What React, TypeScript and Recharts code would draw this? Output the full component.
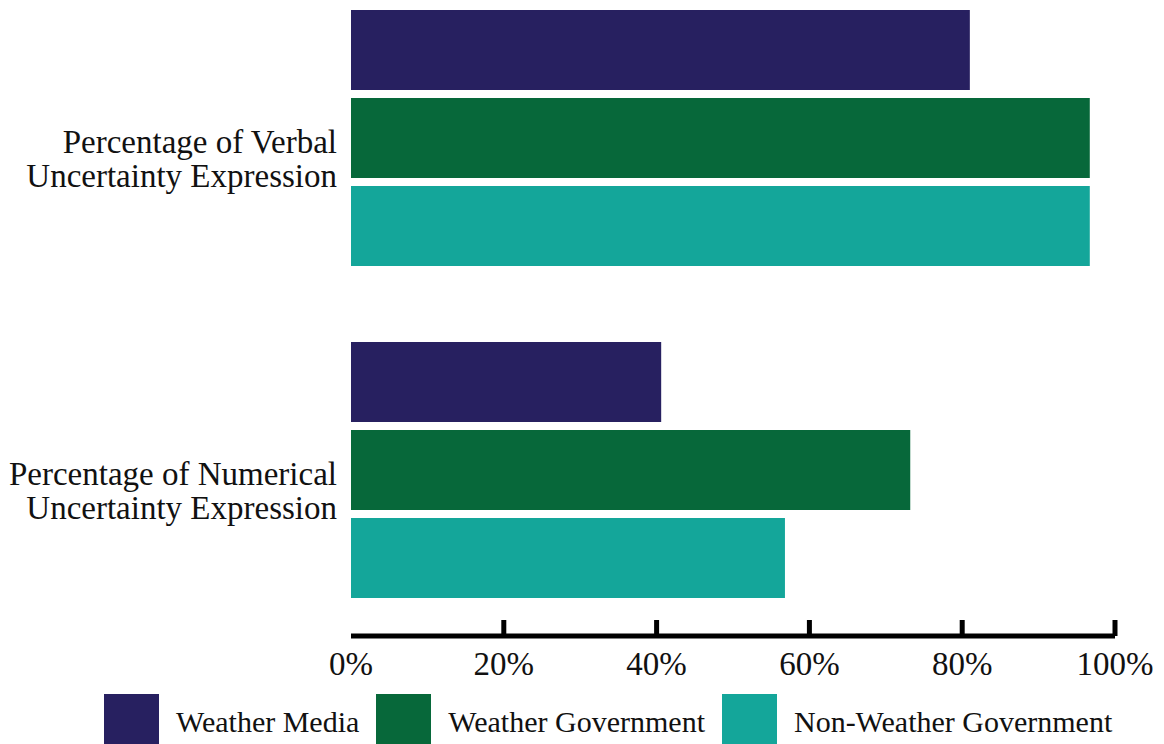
import React from 'react';
import { BarChart, Bar, XAxis, YAxis, Legend } from 'recharts';

// Category labels, split into the two lines they are drawn on
const categoryLines: string[][] = [
  ['Percentage of Verbal', 'Uncertainty Expression'],
  ['Percentage of Numerical', 'Uncertainty Expression'],
];
const categories = categoryLines.map((lines) => lines.join(' '));

// Share of statements (%) per source type
const weatherMedia = [81.0, 40.6];
const weatherGovernment = [96.7, 73.2];
const nonWeatherGovernment = [96.7, 56.8];

const xTicks = [0, 20, 40, 60, 80, 100];

const seriesKeys = ['weatherMedia', 'weatherGovernment', 'nonWeatherGovernment'];
const seriesNames = ['Weather Media', 'Weather Government', 'Non-Weather Government'];
const seriesColors = ['#272060', '#07683a', '#14a69a'];

const data = categories.map((category, i) => ({
  category,
  weatherMedia: weatherMedia[i],
  weatherGovernment: weatherGovernment[i],
  nonWeatherGovernment: nonWeatherGovernment[i],
}));

const FONT = '"Liberation Serif", "Times New Roman", serif';
const INK = '#111';

const CategoryTick = (props: any) => {
  const { x, y, payload } = props;
  const idx = categories.indexOf(payload.value);
  const lines = idx >= 0 ? categoryLines[idx] : [String(payload.value)];
  return (
    <text x={x} y={y} textAnchor="end" fontFamily={FONT} fontSize={33} fill={INK}>
      {lines.map((line, i) => (
        <tspan key={i} x={x} y={y + 15 + i * 34}>
          {line}
        </tspan>
      ))}
    </text>
  );
};

const PercentTick = (props: any) => {
  const { x, y, payload } = props;
  return (
    <g>
      {payload.value !== 0 && (
        <line x1={x} x2={x} y1={y - 16} y2={y} stroke="#000" strokeWidth={5} />
      )}
      <text x={x} y={y + 39} textAnchor="middle" fontFamily={FONT} fontSize={33} fill={INK}>
        {`${payload.value}%`}
      </text>
    </g>
  );
};

const LegendContent = () => (
  <div style={{ display: 'flex', alignItems: 'flex-start', paddingLeft: 104, height: 50 }}>
    {seriesNames.map((name, i) => (
      <div key={name} style={{ display: 'flex', alignItems: 'flex-start', marginRight: 17 }}>
        <div style={{ width: 55, height: 50, background: seriesColors[i], marginRight: 17 }} />
        <span
          style={{
            fontFamily: FONT,
            fontSize: 30,
            lineHeight: '30px',
            marginTop: 13,
            color: INK,
            whiteSpace: 'nowrap',
          }}
        >
          {name}
        </span>
      </div>
    ))}
  </div>
);

export default function App() {
  return (
    <div style={{ position: 'absolute', left: 0, top: -28, width: 1164, height: 772 }}>
      <BarChart
        width={1164}
        height={772}
        data={data}
        layout="vertical"
        margin={{ top: 0, right: 49, bottom: 48, left: 11 }}
        barSize={80}
        barGap={8}
      >
        <XAxis
          type="number"
          domain={[0, 100]}
          ticks={xTicks}
          interval={0}
          height={60}
          tickSize={0}
          tickMargin={0}
          tickLine={false}
          axisLine={{ stroke: '#000', strokeWidth: 5 }}
          tick={<PercentTick />}
        />
        <YAxis
          type="category"
          dataKey="category"
          width={340}
          tickSize={0}
          tickMargin={14}
          tickLine={false}
          axisLine={false}
          tick={<CategoryTick />}
        />
        <Legend
          layout="horizontal"
          verticalAlign="middle"
          align="center"
          content={<LegendContent />}
          wrapperStyle={{ top: 722, left: 0, width: 1164, height: 50, margin: 0 }}
        />
        {seriesKeys.map((key, i) => (
          <Bar
            key={key}
            dataKey={key}
            name={seriesNames[i]}
            fill={seriesColors[i]}
            isAnimationActive={false}
          />
        ))}
      </BarChart>
    </div>
  );
}
